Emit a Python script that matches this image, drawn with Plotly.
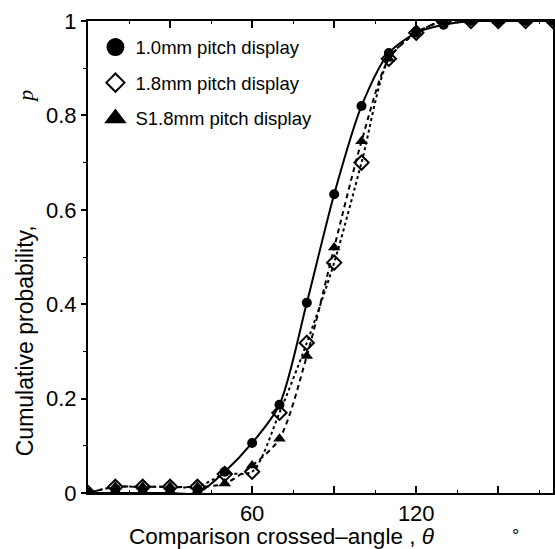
import plotly.graph_objects as go

# ---- data ----
angles = [0, 10, 20, 30, 40, 50, 60, 70, 80, 90, 100, 110, 120, 130, 140, 150, 160, 170]
p_10mm = [0, 0, 0, 0, 0, 0.045, 0.106, 0.187, 0.403, 0.633, 0.82, 0.932, 0.975, 0.992, 1, 1, 1, 1]
p_18mm = [0, 0.013, 0.013, 0.013, 0.013, 0.04, 0.045, 0.17, 0.318, 0.488, 0.70, 0.92, 0.975, 1, 1, 1, 1, 1]
p_s18mm = [0, 0.013, 0.013, 0.013, 0.013, 0.02, 0.058, 0.115, 0.29, 0.52, 0.745, 0.92, 0.975, 1, 1, 1, 1, 1]

series_names = ["1.0mm pitch display", "1.8mm pitch display", "S1.8mm pitch display"]

x_tickvals = [0, 30, 60, 90, 120, 150]
x_ticktext = ["", "", "60", "", "120", ""]
y_tickvals = [0, 0.2, 0.4, 0.6, 0.8, 1.0]
y_ticktext = ["0", "0.2", "0.4", "0.6", "0.8", "1"]

FONT = "Liberation Sans, Arial, sans-serif"

fig = go.Figure()

# fitted curves (no legend)
fig.add_trace(go.Scatter(x=angles, y=p_10mm, mode="lines", showlegend=False,
                         line=dict(color="black", width=2, shape="spline", smoothing=0.8)))
fig.add_trace(go.Scatter(x=angles, y=p_18mm, mode="lines", showlegend=False,
                         line=dict(color="black", width=2, dash="dot", shape="spline", smoothing=0.8)))
fig.add_trace(go.Scatter(x=angles, y=p_s18mm, mode="lines", showlegend=False,
                         line=dict(color="black", width=2, dash="5px,4px", shape="spline", smoothing=0.8)))

# data markers
fig.add_trace(go.Scatter(x=angles, y=p_18mm, mode="markers", showlegend=False,
                         marker=dict(symbol="diamond-open", size=11, color="black", line=dict(width=2, color="black"))))
fig.add_trace(go.Scatter(x=angles, y=p_s18mm, mode="markers", showlegend=False,
                         marker=dict(symbol="triangle-up", size=11, color="black")))
fig.add_trace(go.Scatter(x=angles, y=p_10mm, mode="markers", showlegend=False,
                         marker=dict(symbol="circle", size=10, color="black")))

# legend entries (larger symbols, as in the reference key)
legend_symbols = ["circle", "diamond-open", "triangle-up"]
for i, (nm, sym) in enumerate(zip(series_names, legend_symbols)):
    fig.add_trace(go.Scatter(x=[None], y=[None], mode="markers", name=nm,
                             legendgroup=f"g{i}", legendrank=i + 1,
                             marker=dict(symbol=sym, size=16 if sym != "diamond-open" else 14,
                                         color="black", line=dict(width=2, color="black"))))

fig.update_layout(
    width=555, height=549,
    margin=dict(l=88, r=2, t=21, b=56),
    paper_bgcolor="white", plot_bgcolor="white",
    font=dict(family=FONT, color="black", size=20),
    legend=dict(x=0.016, y=0.984, xanchor="left", yanchor="top",
                font=dict(size=18.5, family=FONT), itemsizing="trace",
                tracegroupgap=8.5, traceorder="grouped", bgcolor="rgba(0,0,0,0)",
                itemwidth=30),
    xaxis=dict(range=[0, 170], showgrid=False, zeroline=False, automargin=False,
               showline=True, linecolor="black", linewidth=2, mirror="ticks",
               tickmode="array", tickvals=x_tickvals, ticktext=x_ticktext,
               ticks="inside", ticklen=7, tickwidth=1.5, tickcolor="black",
               tickfont=dict(size=22, family=FONT),
               minor=dict(dtick=15, ticks="inside", ticklen=3, tickwidth=1, tickcolor="black")),
    yaxis=dict(range=[0, 1.0], showgrid=False, zeroline=False, automargin=False,
               showline=True, linecolor="black", linewidth=2, mirror="ticks",
               tickmode="array", tickvals=y_tickvals, ticktext=y_ticktext,
               ticks="outside", ticklen=5, tickwidth=1.5, tickcolor="black",
               tickfont=dict(size=22, family=FONT),
               minor=dict(dtick=0.1, ticks="outside", ticklen=3, tickwidth=1, tickcolor="black")),
)

# axis titles as annotations
fig.add_annotation(xref="paper", yref="paper", x=0.417, y=-0.093, xanchor="center", yanchor="middle",
                   text="Comparison crossed\u2013angle , <i>\u03b8</i>", showarrow=False,
                   font=dict(size=22.5, family=FONT))
fig.add_annotation(xref="paper", yref="paper", x=0.919, y=-0.092, xanchor="center", yanchor="middle",
                   text="\u00b0", showarrow=False, font=dict(size=18, family=FONT))
fig.add_annotation(xref="paper", yref="paper", x=-0.135, y=0.322, xanchor="center", yanchor="middle",
                   text="Cumulative probability,", textangle=-90, showarrow=False,
                   font=dict(size=23, family=FONT))
fig.add_annotation(xref="paper", yref="paper", x=-0.135, y=0.84, xanchor="center", yanchor="middle",
                   text="<i>p</i>", textangle=-90, showarrow=False,
                   font=dict(size=22, family="Liberation Serif, Times New Roman, serif"))

fig.write_html("out.html", config={"displayModeBar": False},
               post_script="document.body.style.margin='0';document.body.style.overflow='hidden';")
